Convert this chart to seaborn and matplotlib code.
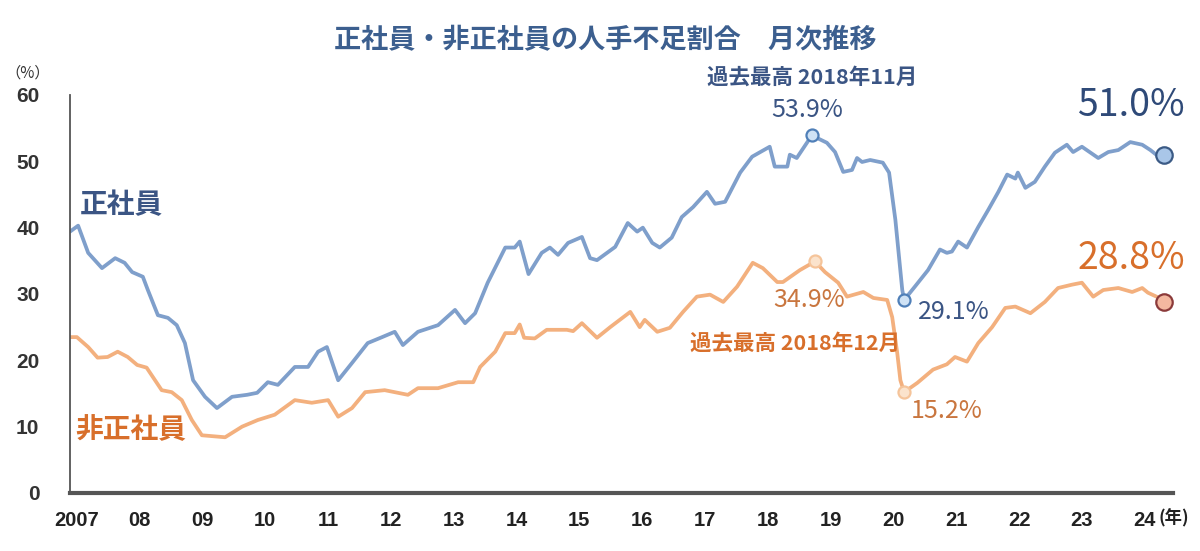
import pandas as pd
import matplotlib.pyplot as plt
import seaborn as sns

# 正社員 人手不足割合 (年, %) 図から読み取り
seishain_nen = [2006.89, 2007.02, 2007.18, 2007.40, 2007.61, 2007.76, 2007.88, 2008.05, 2008.13, 2008.29,
                2008.45, 2008.59, 2008.72, 2008.85, 2009.04, 2009.23, 2009.47, 2009.71, 2009.87, 2010.04,
                2010.20, 2010.47, 2010.68, 2010.84, 2010.98, 2011.16, 2011.38, 2011.63, 2011.86, 2012.06,
                2012.19, 2012.43, 2012.75, 2013.02, 2013.18, 2013.34, 2013.54, 2013.82, 2013.97, 2014.05,
                2014.19, 2014.40, 2014.53, 2014.66, 2014.82, 2015.04, 2015.17, 2015.28, 2015.57, 2015.77,
                2015.92, 2016.01, 2016.16, 2016.28, 2016.47, 2016.63, 2016.81, 2017.03, 2017.16, 2017.32,
                2017.56, 2017.75, 2017.88, 2018.03, 2018.11, 2018.31, 2018.35, 2018.46, 2018.70, 2018.94,
                2019.07, 2019.20, 2019.34, 2019.42, 2019.50, 2019.63, 2019.83, 2019.93, 2020.03, 2020.14,
                2020.17, 2020.34, 2020.55, 2020.74, 2020.85, 2020.93, 2021.03, 2021.17, 2021.35, 2021.51,
                2021.67, 2021.81, 2021.94, 2021.98, 2022.10, 2022.25, 2022.41, 2022.57, 2022.76, 2022.86,
                2023.00, 2023.26, 2023.42, 2023.58, 2023.77, 2023.96, 2024.09, 2024.21, 2024.31]
seishain_pct = [39.4, 40.3, 36.2, 33.9, 35.4, 34.7, 33.3, 32.6, 30.6, 26.8,
                26.4, 25.3, 22.6, 17.0, 14.5, 12.8, 14.5, 14.8, 15.1, 16.7,
                16.3, 19.0, 19.0, 21.3, 22.0, 17.0, 19.6, 22.6, 23.5, 24.3,
                22.3, 24.3, 25.3, 27.6, 25.6, 27.1, 31.7, 37.0, 37.0, 37.9,
                33.0, 36.2, 37.0, 35.9, 37.7, 38.6, 35.4, 35.1, 37.1, 40.7,
                39.4, 40.0, 37.7, 37.0, 38.5, 41.6, 43.1, 45.4, 43.6, 43.9,
                48.3, 50.7, 51.4, 52.2, 49.2, 49.2, 51.0, 50.5, 53.9, 52.8,
                51.4, 48.4, 48.7, 50.5, 49.9, 50.2, 49.8, 48.3, 41.2, 30.6,
                29.1, 31.1, 33.6, 36.7, 36.2, 36.4, 37.9, 37.0, 40.1, 42.7,
                45.4, 48.0, 47.4, 48.3, 46.0, 46.9, 49.2, 51.3, 52.5, 51.4,
                52.2, 50.5, 51.4, 51.7, 52.9, 52.5, 51.7, 50.8, 51.0]

# 非正社員 人手不足割合
hiseishain_nen = [2006.89, 2007.00, 2007.18, 2007.33, 2007.49, 2007.65, 2007.81, 2007.96, 2008.11, 2008.35,
                  2008.51, 2008.67, 2008.83, 2008.99, 2009.36, 2009.63, 2009.88, 2010.15, 2010.47, 2010.74,
                  2011.00, 2011.16, 2011.38, 2011.59, 2011.90, 2012.27, 2012.43, 2012.75, 2013.07, 2013.31,
                  2013.42, 2013.66, 2013.82, 2013.97, 2014.05, 2014.12, 2014.29, 2014.48, 2014.80, 2014.90,
                  2015.04, 2015.28, 2015.49, 2015.81, 2015.96, 2016.04, 2016.24, 2016.44, 2016.65, 2016.87,
                  2017.08, 2017.29, 2017.51, 2017.76, 2017.92, 2018.15, 2018.24, 2018.51, 2018.75, 2018.91,
                  2019.12, 2019.26, 2019.52, 2019.68, 2019.90, 2019.98, 2020.06, 2020.11, 2020.17, 2020.38,
                  2020.63, 2020.85, 2020.98, 2021.17, 2021.35, 2021.57, 2021.78, 2021.94, 2022.18, 2022.41,
                  2022.62, 2022.84, 2023.00, 2023.18, 2023.34, 2023.58, 2023.80, 2023.96, 2024.05, 2024.21,
                  2024.31]
hiseishain_pct = [23.5, 23.5, 22.0, 20.4, 20.5, 21.3, 20.5, 19.3, 18.9, 15.5,
                  15.2, 14.0, 11.0, 8.7, 8.4, 10.0, 11.0, 11.8, 14.0, 13.6,
                  14.0, 11.5, 12.8, 15.2, 15.5, 14.8, 15.8, 15.8, 16.7, 16.7,
                  19.0, 21.3, 24.1, 24.1, 25.4, 23.4, 23.3, 24.6, 24.6, 24.4,
                  25.6, 23.4, 25.0, 27.3, 25.0, 26.1, 24.3, 24.9, 27.3, 29.6,
                  29.9, 28.8, 31.1, 34.7, 33.9, 31.8, 31.8, 33.6, 34.9, 33.3,
                  31.7, 29.6, 30.3, 29.4, 29.1, 26.5, 21.1, 17.0, 15.2, 16.6,
                  18.6, 19.4, 20.5, 19.8, 22.6, 25.0, 27.9, 28.1, 27.1, 28.8,
                  30.9, 31.4, 31.7, 29.6, 30.6, 30.9, 30.3, 30.9, 30.2, 29.5,
                  28.8]

# 注目点 (過去最高, コロナ禍の底, 最新)
sei_ten_nen = [2018.70, 2020.17]
sei_ten_pct = [53.9, 29.1]
hi_ten_nen = [2018.75, 2020.17]
hi_ten_pct = [34.9, 15.2]
saishin_nen = [2024.31]
sei_saishin = [51.0]
hi_saishin = [28.8]

nen_ticks = list(range(2007, 2025))
nen_labels = ['2007', '08', '09', '10', '11', '12', '13', '14', '15',
              '16', '17', '18', '19', '20', '21', '22', '23', '24']

AO = '#7f9fcb'
AO_MOJI = '#3b5584'
DAI = '#f3b07e'
DAI_MOJI = '#d86f2b'

sns.set_theme(style='white')
plt.rcParams['font.family'] = ['Noto Sans CJK JP', 'DejaVu Sans']

fig = plt.figure(figsize=(12, 5.51), dpi=100)
ax = fig.add_axes([0.0583, 0.1053, 0.9192, 0.7223])

df_sei = pd.DataFrame({'nen': seishain_nen, 'pct': seishain_pct})
df_hi = pd.DataFrame({'nen': hiseishain_nen, 'pct': hiseishain_pct})
sns.lineplot(data=df_sei, x='nen', y='pct', color=AO, lw=2.7, estimator=None, ax=ax)
sns.lineplot(data=df_hi, x='nen', y='pct', color=DAI, lw=2.7, estimator=None, ax=ax)

# マーカー
sns.scatterplot(x=sei_ten_nen, y=sei_ten_pct, s=75, color='#cfe2f5', edgecolor='#4f7fb8',
                linewidth=1.6, zorder=5, ax=ax, clip_on=False)
sns.scatterplot(x=hi_ten_nen, y=hi_ten_pct, s=75, color='#fbe3cc', edgecolor='#f5c49a',
                linewidth=1.6, zorder=5, ax=ax, clip_on=False)
sns.scatterplot(x=saishin_nen, y=sei_saishin, s=140, color='#a9c6e8', edgecolor='#3b5a85',
                linewidth=1.6, zorder=5, ax=ax, clip_on=False)
sns.scatterplot(x=saishin_nen, y=hi_saishin, s=140, color='#f4b8a0', edgecolor='#8b3a3a',
                linewidth=1.6, zorder=5, ax=ax, clip_on=False)

ax.set_xlim(2006.89, 2024.45)
ax.set_ylim(0, 60)
ax.set_yticks(range(0, 61, 10))
ax.set_xticks(nen_ticks)
ax.set_xticklabels(nen_labels, family=['Liberation Sans', 'DejaVu Sans'],
                   fontsize=14.5, fontweight='bold', color='#222222')
ax.set_yticklabels([str(v) for v in range(0, 61, 10)], family=['Liberation Sans', 'DejaVu Sans'],
                   fontsize=15, fontweight='bold', color='#333333')
ax.tick_params(axis='y', length=0, pad=22)
ax.tick_params(axis='x', length=0, pad=13)
ax.set_xlabel('')
ax.set_ylabel('')
for s in ['top', 'right']:
    ax.spines[s].set_visible(False)
ax.spines['left'].set_color('#555555')
ax.spines['left'].set_linewidth(1.3)
ax.spines['bottom'].set_color('#555555')
ax.spines['bottom'].set_linewidth(3)
ax.grid(False)

# テキスト
fig.text(0.504, 0.927, '正社員・非正社員の人手不足割合　月次推移', ha='center', va='center',
         fontsize=19.5, fontweight='bold', color='#3c5f8f')
fig.text(0.023, 0.868, '（%）', ha='center', va='center', fontsize=11, color='#333333')
ax.text(2024.22, -3.75, '(年)', ha='left', va='center', fontsize=12.5, fontweight='bold',
        color='#222222', clip_on=False)

ax.text(2007.05, 43.4, '正社員', ha='left', va='center', fontsize=20, fontweight='bold', color=AO_MOJI)
ax.text(2006.97, 9.5, '非正社員', ha='left', va='center', fontsize=20, fontweight='bold', color=DAI_MOJI)

ax.text(2018.70, 62.7, '過去最高 2018年11月', ha='center', va='center', fontsize=15.5,
        fontweight='bold', color=AO_MOJI, clip_on=False)
ax.text(2018.63, 57.8, '53.9%', ha='center', va='center', fontsize=18, color=AO_MOJI)
ax.text(2023.78, 58.4, '51.0%', ha='center', va='center', fontsize=27, color='#2f4a78')
ax.text(2020.39, 27.3, '29.1%', ha='left', va='center', fontsize=18, color=AO_MOJI)

ax.text(2018.66, 29.1, '34.9%', ha='center', va='center', fontsize=18, color='#c9763f')
ax.text(2018.43, 22.6, '過去最高 2018年12月', ha='center', va='center', fontsize=15.5,
        fontweight='bold', color=DAI_MOJI)
ax.text(2020.84, 12.4, '15.2%', ha='center', va='center', fontsize=18, color='#c9763f')
ax.text(2023.78, 35.4, '28.8%', ha='center', va='center', fontsize=27, color=DAI_MOJI)

fig.savefig('out.png', dpi=100)
